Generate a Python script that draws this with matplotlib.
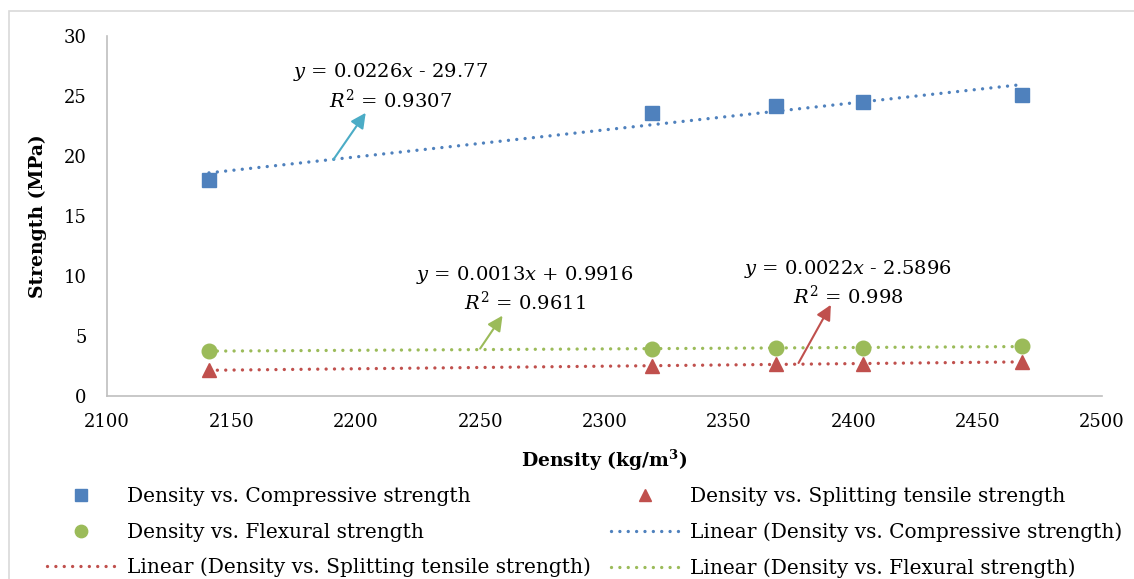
import matplotlib
matplotlib.use('Agg')
import matplotlib.pyplot as plt
import numpy as np
from matplotlib.lines import Line2D
from matplotlib.patches import Rectangle

# ---- data ----
density = [2141, 2319, 2369, 2404, 2468]
compressive = [18.0, 23.6, 24.2, 24.5, 25.1]
splitting = [2.15, 2.5, 2.65, 2.7, 2.85]
flexural = [3.75, 3.95, 3.98, 4.03, 4.15]
x_ticks = [2100, 2150, 2200, 2250, 2300, 2350, 2400, 2450, 2500]
y_ticks = [0, 5, 10, 15, 20, 25, 30]
eq_comp = ["$y$ = 0.0226$x$ - 29.77", "$R^2$ = 0.9307"]
eq_flex = ["$y$ = 0.0013$x$ + 0.9916", "$R^2$ = 0.9611"]
eq_split = ["$y$ = 0.0022$x$ - 2.5896", "$R^2$ = 0.998"]

BLUE = '#4F81BD'
RED = '#C0504D'
GREEN = '#9BBB59'
TEAL = '#4BACC6'

plt.rcParams['font.family'] = ['DejaVu Serif']
plt.rcParams['mathtext.fontset'] = 'custom'
plt.rcParams['mathtext.rm'] = 'DejaVu Serif'
plt.rcParams['mathtext.it'] = 'DejaVu Serif:italic'
plt.rcParams['mathtext.bf'] = 'DejaVu Serif:bold'

W, H = 1134, 579
fig = plt.figure(figsize=(W / 100, H / 100), dpi=100)
fig.patches.append(Rectangle((9 / W, -0.1), 1.2, 1 - 11 / H + 0.1, transform=fig.transFigure,
                             fill=False, edgecolor='#D9D9D9', lw=1.2))

ax = fig.add_axes([107 / W, 1 - 396 / H, (1102 - 107) / W, (396 - 36) / H])
ax.set_xlim(2100, 2500)
ax.set_ylim(0, 30)
ax.set_xticks(x_ticks)
ax.set_yticks(y_ticks)
for s in ['top', 'right']:
    ax.spines[s].set_visible(False)
for s in ['left', 'bottom']:
    ax.spines[s].set_color('#BFBFBF')
    ax.spines[s].set_linewidth(1.2)
ax.tick_params(length=0, labelsize=13)
ax.tick_params(axis='x', pad=12.5)
ax.tick_params(axis='y', pad=14.5)

dot = dict(linestyle=(0, (0.01, 2.5)), dash_capstyle='round', lw=2.4)

def trend(x, y):
    p = np.polyfit(x, y, 1)
    xs = np.array([min(x), max(x)])
    return xs, np.polyval(p, xs)

series = [
    (compressive, BLUE, 's', 9.5, 'Density vs. Compressive strength'),
    (splitting, RED, '^', 10.5, 'Density vs. Splitting tensile strength'),
    (flexural, GREEN, 'o', 10.5, 'Density vs. Flexural strength'),
]
handles = {}
for y, c, m, ms, lab in series:
    tx, ty = trend(density, y)
    ln, = ax.plot(tx, ty, color=c, label='Linear (' + lab + ')', zorder=2, **dot)
    sc, = ax.plot(density, y, linestyle='none', marker=m, markersize=ms, color=c,
                  label=lab, zorder=3)
    handles[lab] = sc
    handles['Linear (' + lab + ')'] = ln

ax.set_ylabel('Strength (MPa)', fontsize=13.5, fontweight='bold', labelpad=12)
ax.set_xlabel('Density (kg/m$^\\mathbf{3}$)', fontsize=13.5, fontweight='bold', labelpad=12)

# equations and arrows
def label(lines, x, y, color, tail, head):
    ax.text(x, y, '\n'.join(lines), ha='center', va='center', fontsize=14,
            multialignment='center', linespacing=1.25)
    ax.annotate('', xy=head, xytext=tail,
                arrowprops=dict(arrowstyle='-|>,head_length=0.9,head_width=0.45',
                                color=color, lw=1.5, shrinkA=0, shrinkB=0))

label(eq_comp, 2214, 25.8, TEAL, (2191, 19.7), (2204, 23.6))
label(eq_flex, 2268, 8.95, GREEN, (2250, 3.95), (2259, 6.7))
label(eq_split, 2398, 9.45, RED, (2378, 2.75), (2391, 7.6))

order = ['Density vs. Compressive strength', 'Density vs. Flexural strength',
         'Linear (Density vs. Splitting tensile strength)',
         'Density vs. Splitting tensile strength',
         'Linear (Density vs. Compressive strength)',
         'Linear (Density vs. Flexural strength)']
leg = fig.legend([handles[k] for k in order], order, ncol=2, loc='upper left',
                 bbox_to_anchor=(47 / W, 1 - 487.5 / H), frameon=False, fontsize=14.5,
                 handlelength=3.4, handletextpad=0.55, columnspacing=1.0,
                 labelspacing=0.8, borderaxespad=0, borderpad=0, markerscale=0.85)

fig.savefig('out.png', dpi=100)
